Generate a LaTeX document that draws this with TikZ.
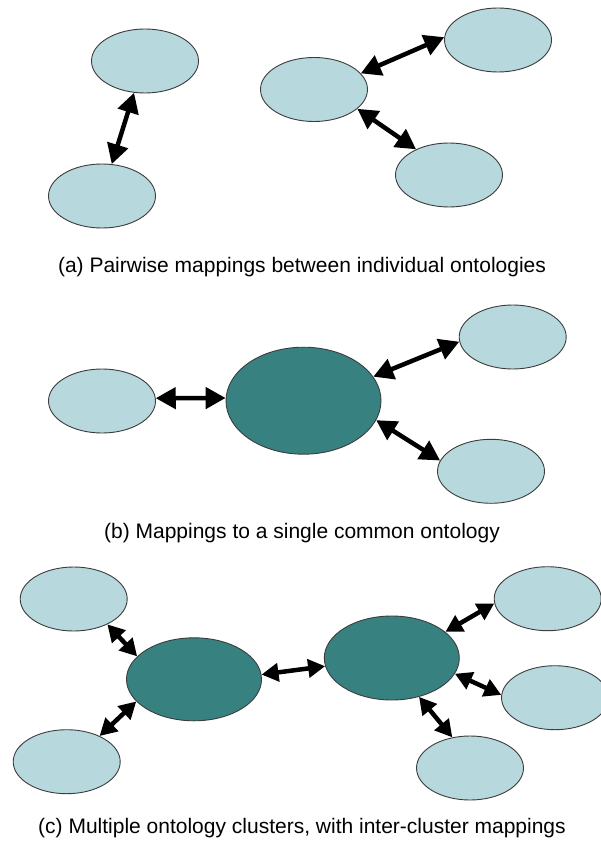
\documentclass[tikz,border=0pt]{standalone}
\usepackage{fontspec}
\setmainfont{Liberation Sans}
\usetikzlibrary{shapes.geometric,arrows.meta}
\definecolor{ontlight}{RGB}{183,216,220}
\definecolor{ontdark}{RGB}{55,130,128}
\definecolor{rim}{RGB}{60,60,60}
\begin{document}
\begin{tikzpicture}[x=1pt,y=-1pt,
  onto/.style={ellipse, draw=rim, line width=0.9pt, fill=ontlight, inner sep=0pt,
               minimum width=107pt, minimum height=64pt},
  hub/.style={onto, fill=ontdark},
  mapping/.style={line width=4.5pt, {Triangle[length=20pt,width=21pt]}-{Triangle[length=20pt,width=21pt]}},
  mappingsmall/.style={line width=4.5pt, {Triangle[length=17pt,width=18pt]}-{Triangle[length=17pt,width=18pt]}},
  caption/.style={anchor=base, inner sep=0pt, font=\fontsize{21}{25}\selectfont}]
\useasboundingbox (0,0) rectangle (601,842);
\clip (0,0) rectangle (601,842);

% (a) pairwise mappings
\node[onto] (A1) at (145,61) {};
\node[onto] (A2) at (102,196) {};
\node[onto] (A3) at (498,40) {};
\node[onto] (A4) at (314,89.5) {};
\node[onto] (A5) at (449,175) {};
\draw[mapping] (A1.251) -- (A2.73);
\draw[mapping] (A4.19) -- (A3.177);
\draw[mapping] (A4.336) -- (A5.142);
\node[caption] (capA) at (302,272) {(a) Pairwise mappings between individual ontologies};

% (b) mappings to one common ontology
\node[hub, minimum width=155pt, minimum height=107pt] (BC) at (303.5,400.7) {};
\node[onto] (B1) at (102,401) {};
\node[onto] (B2) at (512.7,337) {};
\node[onto] (B3) at (491,471.3) {};
\draw[mapping] (B1.3) -- (BC.178);
\draw[mapping] (BC.19) -- (B2.185);
\draw[mapping] (BC.345) -- (B3.168);
\node[caption] (capB) at (302,538) {(b) Mappings to a single common ontology};

% (c) clusters linked to each other
\node[hub, minimum width=135pt, minimum height=83pt] (CL) at (194,679.3) {};
\node[hub, minimum width=135pt, minimum height=84pt] (CR) at (391.8,658) {};
\node[onto] (C1) at (73.7,599) {};
\node[onto] (C2) at (66.7,761.7) {};
\node[onto] (C3) at (547.7,598.7) {};
\node[onto] (C4) at (555,697.7) {};
\node[onto] (C5) at (470,768) {};
\draw[mappingsmall] (C1.323) -- (CL.158);
\draw[mappingsmall] (C2.38) -- (CL.201);
\draw[mappingsmall] (CL.4) -- (CR.187);
\draw[mappingsmall] (CR.26) -- (C3.185);
\draw[mappingsmall] (CR.346) -- (C4.177);
\draw[mappingsmall] (CR.305) -- (C5.120);
\node[caption] (capC) at (302,833) {(c) Multiple ontology clusters, with inter-cluster mappings};
\end{tikzpicture}
\end{document}
